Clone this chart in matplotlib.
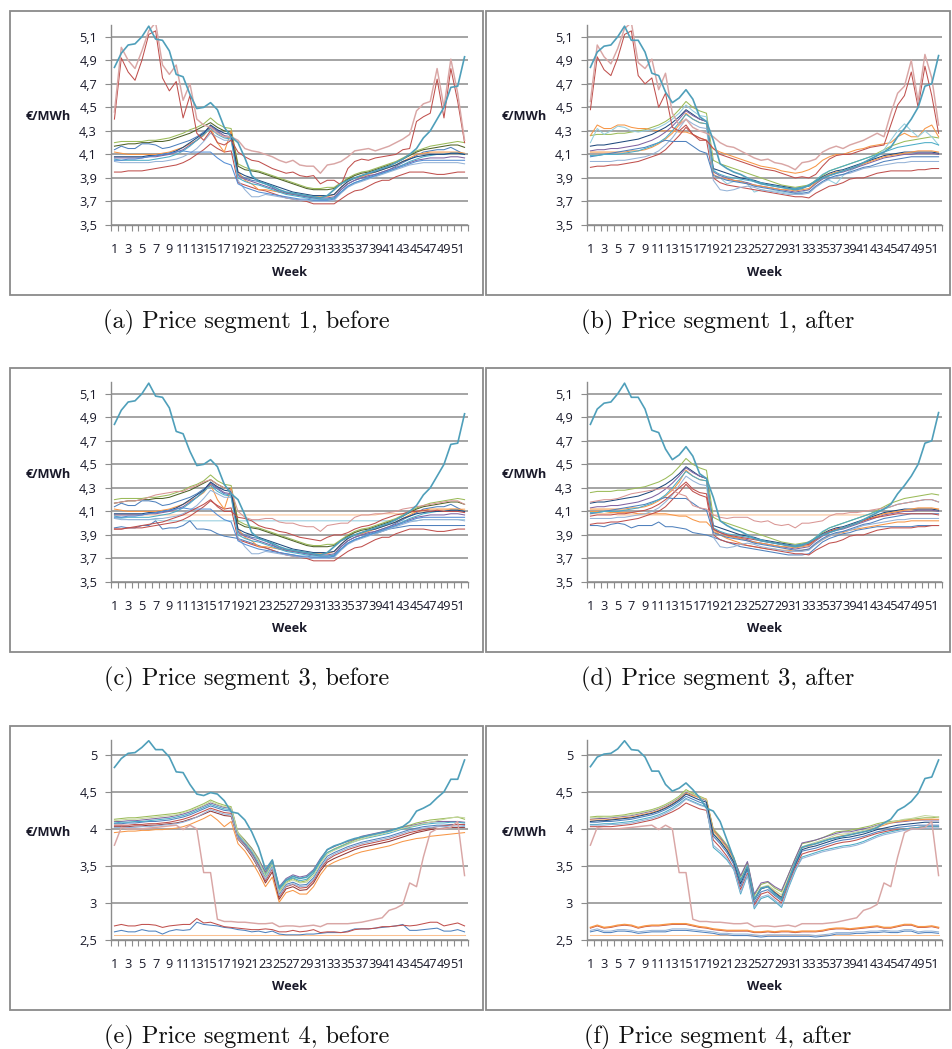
import matplotlib
matplotlib.use("Agg")
import matplotlib.pyplot as plt
from matplotlib.patches import Rectangle
from matplotlib.ticker import FixedLocator

WEEKS = list(range(1, 53))
WEEK_LABELS = [str(w) for w in range(1, 52, 2)]
Y_TICKS_13 = [3.5, 3.7, 3.9, 4.1, 4.3, 4.5, 4.7, 4.9, 5.1]
Y_LABELS_13 = ["3,5", "3,7", "3,9", "4,1", "4,3", "4,5", "4,7", "4,9", "5,1"]
Y_TICKS_4 = [2.5, 3.0, 3.5, 4.0, 4.5, 5.0]
Y_LABELS_4 = ["2,5", "3", "3,5", "4", "4,5", "5"]
CAPTIONS = ["(a) Price segment 1, before", "(b) Price segment 1, after",
            "(c) Price segment 3, before", "(d) Price segment 3, after",
            "(e) Price segment 4, before", "(f) Price segment 4, after"]

# ---------------- segment 1 / 3, before ----------------
TEAL_AC = [4.84, 4.96, 5.03, 5.04, 5.10, 5.19, 5.08, 5.07, 4.98, 4.78, 4.76, 4.61, 4.49,
           4.50, 4.54, 4.48, 4.33, 4.25, 4.20, 4.07, 3.92, 3.87, 3.85, 3.83, 3.80, 3.78,
           3.77, 3.76, 3.75, 3.74, 3.73, 3.75, 3.80, 3.85, 3.88, 3.90, 3.92, 3.94, 3.96,
           3.98, 4.00, 4.03, 4.06, 4.10, 4.15, 4.24, 4.30, 4.40, 4.50, 4.67, 4.68, 4.93]
A_RED_WILD = [4.40, 4.92, 4.80, 4.73, 4.90, 5.12, 5.15, 4.75, 4.64, 4.72, 4.41, 4.60, 4.28,
              4.22, 4.30, 4.20, 4.18, 4.22, 4.12, 4.08, 4.05, 4.04, 4.01, 3.98, 3.96, 3.94,
              3.95, 3.92, 3.91, 3.92, 3.85, 3.88, 3.88, 3.84, 3.98, 4.04, 4.06, 4.05, 4.07,
              4.08, 4.09, 4.10, 4.14, 4.15, 4.38, 4.42, 4.45, 4.74, 4.41, 4.83, 4.55, 4.20]
A_PINK_WILD = [4.46, 5.01, 4.90, 4.83, 4.98, 5.15, 5.22, 4.86, 4.78, 4.86, 4.56, 4.70, 4.40,
               4.35, 4.33, 4.28, 4.25, 4.25, 4.22, 4.15, 4.13, 4.12, 4.10, 4.08, 4.05, 4.03,
               4.05, 4.01, 4.00, 4.00, 3.94, 4.01, 4.02, 4.04, 4.08, 4.13, 4.14, 4.15, 4.13,
               4.15, 4.17, 4.20, 4.23, 4.27, 4.47, 4.53, 4.55, 4.83, 4.50, 4.91, 4.62, 4.22]
A1 = [4.20, 4.21, 4.21, 4.21, 4.21, 4.22, 4.22, 4.23, 4.24, 4.26, 4.28, 4.31, 4.33,
      4.36, 4.41, 4.36, 4.33, 4.32, 4.02, 3.99, 3.97, 3.96, 3.94, 3.92, 3.90, 3.88,
      3.86, 3.84, 3.82, 3.81, 3.81, 3.82, 3.82, 3.86, 3.90, 3.93, 3.95, 3.96, 3.98,
      4.00, 4.02, 4.04, 4.07, 4.10, 4.13, 4.15, 4.17, 4.18, 4.19, 4.20, 4.21, 4.20]
A2 = [4.17, 4.18, 4.19, 4.19, 4.20, 4.20, 4.21, 4.21, 4.22, 4.24, 4.26, 4.28, 4.31,
      4.34, 4.37, 4.33, 4.30, 4.29, 4.00, 3.97, 3.96, 3.95, 3.93, 3.91, 3.89, 3.87,
      3.85, 3.83, 3.81, 3.80, 3.80, 3.80, 3.81, 3.85, 3.89, 3.92, 3.94, 3.95, 3.97,
      3.99, 4.01, 4.03, 4.06, 4.09, 4.12, 4.14, 4.15, 4.16, 4.17, 4.18, 4.18, 4.16]
A3 = [4.14, 4.17, 4.15, 4.15, 4.19, 4.19, 4.18, 4.15, 4.16, 4.18, 4.20, 4.22, 4.25,
      4.29, 4.33, 4.29, 4.25, 4.24, 3.93, 3.90, 3.88, 3.87, 3.85, 3.82, 3.78, 3.77,
      3.76, 3.75, 3.74, 3.73, 3.72, 3.72, 3.73, 3.80, 3.85, 3.88, 3.90, 3.91, 3.93,
      3.95, 3.97, 4.00, 4.03, 4.06, 4.09, 4.12, 4.13, 4.14, 4.14, 4.16, 4.13, 4.10]
A4 = [3.95, 3.95, 3.96, 3.96, 3.96, 3.97, 3.98, 3.99, 4.00, 4.01, 4.03, 4.06, 4.10,
      4.14, 4.19, 4.15, 4.12, 4.13, 3.86, 3.84, 3.82, 3.80, 3.79, 3.77, 3.75, 3.73,
      3.72, 3.71, 3.70, 3.68, 3.68, 3.68, 3.68, 3.72, 3.76, 3.79, 3.80, 3.83, 3.86,
      3.88, 3.88, 3.91, 3.93, 3.95, 3.95, 3.95, 3.94, 3.93, 3.93, 3.94, 3.95, 3.95]
A5 = [4.12, 4.11, 4.10, 4.10, 4.10, 4.10, 4.10, 4.11, 4.12, 4.14, 4.16, 4.19, 4.22,
      4.26, 4.33, 4.20, 4.12, 4.30, 3.95, 3.88, 3.85, 3.80, 3.80, 3.79, 3.78, 3.77,
      3.76, 3.76, 3.75, 3.74, 3.74, 3.74, 3.76, 3.82, 3.87, 3.90, 3.91, 3.93, 3.95,
      3.97, 3.99, 4.01, 4.04, 4.07, 4.10, 4.11, 4.12, 4.12, 4.12, 4.12, 4.12, 4.11]
A6 = [4.07, 4.07, 4.07, 4.07, 4.07, 4.08, 4.08, 4.09, 4.10, 4.12, 4.14, 4.18, 4.22,
      4.27, 4.34, 4.30, 4.26, 4.25, 3.92, 3.89, 3.87, 3.85, 3.83, 3.81, 3.79, 3.77,
      3.76, 3.75, 3.74, 3.73, 3.73, 3.73, 3.74, 3.80, 3.85, 3.88, 3.90, 3.92, 3.93,
      3.95, 3.97, 3.99, 4.01, 4.03, 4.05, 4.06, 4.07, 4.07, 4.07, 4.08, 4.08, 4.07]
A7 = [4.04, 4.03, 4.03, 4.03, 4.03, 4.03, 4.04, 4.04, 4.05, 4.06, 4.08, 4.11, 4.15,
      4.21, 4.28, 4.25, 4.22, 4.22, 3.88, 3.80, 3.74, 3.74, 3.76, 3.75, 3.74, 3.73,
      3.72, 3.71, 3.71, 3.70, 3.70, 3.70, 3.71, 3.77, 3.82, 3.85, 3.87, 3.89, 3.91,
      3.93, 3.95, 3.97, 3.99, 4.01, 4.02, 4.03, 4.03, 4.03, 4.03, 4.03, 4.03, 4.02]
A8 = [4.06, 4.05, 4.05, 4.05, 4.05, 4.05, 4.06, 4.07, 4.08, 4.10, 4.13, 4.17, 4.22,
      4.27, 4.32, 4.27, 4.24, 4.23, 3.90, 3.87, 3.85, 3.84, 3.82, 3.80, 3.78, 3.76,
      3.75, 3.74, 3.73, 3.72, 3.72, 3.72, 3.73, 3.78, 3.83, 3.86, 3.88, 3.90, 3.92,
      3.94, 3.96, 3.98, 4.01, 4.04, 4.06, 4.08, 4.09, 4.10, 4.10, 4.11, 4.11, 4.10]
A9 = [4.08, 4.08, 4.08, 4.08, 4.08, 4.09, 4.09, 4.10, 4.11, 4.13, 4.16, 4.20, 4.24,
      4.28, 4.35, 4.31, 4.28, 4.27, 3.95, 3.92, 3.90, 3.88, 3.86, 3.84, 3.82, 3.80,
      3.78, 3.77, 3.76, 3.75, 3.75, 3.75, 3.76, 3.82, 3.87, 3.90, 3.92, 3.94, 3.95,
      3.97, 3.99, 4.01, 4.04, 4.06, 4.08, 4.09, 4.10, 4.10, 4.10, 4.11, 4.11, 4.10]
A10 = [4.05, 4.05, 4.06, 4.06, 4.07, 4.08, 4.09, 4.10, 4.11, 4.12, 4.13, 4.12, 4.12,
       4.12, 4.12, 4.07, 4.03, 4.01, 3.85, 3.82, 3.80, 3.78, 3.77, 3.76, 3.75, 3.74,
       3.73, 3.72, 3.72, 3.71, 3.71, 3.71, 3.72, 3.78, 3.83, 3.86, 3.88, 3.90, 3.92,
       3.94, 3.96, 3.98, 4.00, 4.02, 4.04, 4.05, 4.05, 4.05, 4.05, 4.05, 4.05, 4.05]
C_PINK = [4.17, 4.18, 4.19, 4.19, 4.20, 4.22, 4.24, 4.25, 4.26, 4.27, 4.27, 4.30, 4.32,
          4.35, 4.37, 4.33, 4.30, 4.28, 4.10, 4.05, 4.03, 4.03, 4.04, 4.04, 4.01, 4.00,
          4.00, 3.98, 3.97, 3.97, 3.93, 3.98, 3.99, 4.00, 4.00, 4.05, 4.07, 4.07, 4.08,
          4.08, 4.09, 4.10, 4.12, 4.13, 4.14, 4.15, 4.16, 4.17, 4.18, 4.19, 4.19, 4.16]
C_RED = [3.95, 3.95, 3.96, 3.97, 3.98, 3.99, 4.00, 4.01, 4.03, 4.05, 4.07, 4.10, 4.13,
         4.16, 4.20, 4.14, 4.10, 4.10, 4.05, 4.04, 4.02, 3.98, 3.96, 3.95, 3.93, 3.92,
         3.90, 3.88, 3.87, 3.86, 3.85, 3.88, 3.90, 3.90, 3.92, 3.95, 3.97, 3.98, 4.00,
         4.03, 4.05, 4.07, 4.08, 4.10, 4.10, 4.11, 4.10, 4.11, 4.10, 4.10, 4.10, 4.09]
C_FLAT_ORANGE = [4.07, 4.07, 4.07, 4.07, 4.07, 4.07, 4.07, 4.07, 4.07, 4.07, 4.07, 4.07, 4.07,
                 4.07, 4.07, 4.07, 4.07, 4.07, 4.07, 4.07, 4.07, 4.07, 4.07, 4.07, 4.07, 4.07,
                 4.07, 4.07, 4.07, 4.07, 4.07, 4.07, 4.07, 4.07, 4.07, 4.07, 4.07, 4.07, 4.07,
                 4.08, 4.08, 4.08, 4.08, 4.09, 4.09, 4.10, 4.10, 4.11, 4.11, 4.12, 4.12, 4.12]
C_FLAT_LBLUE = [4.04, 4.04, 4.03, 4.03, 4.03, 4.03, 4.03, 4.02, 4.02, 4.02, 4.02, 4.02, 4.02,
                4.02, 4.02, 4.02, 4.02, 4.02, 4.02, 4.02, 4.02, 4.02, 4.02, 4.02, 4.02, 4.02,
                4.02, 4.02, 4.02, 4.02, 4.02, 4.02, 4.02, 4.02, 4.02, 4.02, 4.02, 4.02, 4.02,
                4.02, 4.02, 4.02, 4.02, 4.02, 4.02, 4.03, 4.03, 4.03, 4.03, 4.03, 4.03, 4.03]
C_BLUE_DECL = [3.96, 3.97, 3.96, 3.96, 3.98, 3.98, 4.02, 3.95, 3.96, 3.96, 3.98, 4.02, 3.95,
               3.95, 3.94, 3.91, 3.89, 3.88, 3.87, 3.85, 3.83, 3.81, 3.79, 3.77, 3.75, 3.74,
               3.73, 3.72, 3.71, 3.70, 3.70, 3.70, 3.72, 3.78, 3.83, 3.86, 3.88, 3.90, 3.91,
               3.93, 3.95, 3.96, 3.97, 3.98, 3.98, 3.98, 3.98, 3.98, 3.98, 3.98, 3.98, 3.98]

# ---------------- segment 1 / 3, after ----------------
TEAL_BD = [4.84, 4.97, 5.02, 5.03, 5.10, 5.19, 5.07, 5.07, 4.97, 4.79, 4.77, 4.63, 4.54,
           4.58, 4.65, 4.57, 4.42, 4.38, 4.22, 4.02, 3.98, 3.95, 3.93, 3.90, 3.87, 3.85,
           3.84, 3.83, 3.82, 3.81, 3.80, 3.81, 3.84, 3.87, 3.90, 3.92, 3.94, 3.96, 3.98,
           4.00, 4.03, 4.06, 4.09, 4.12, 4.16, 4.25, 4.32, 4.40, 4.50, 4.68, 4.70, 4.94]
B_RED_WILD = [4.48, 4.93, 4.82, 4.77, 4.92, 5.12, 5.15, 4.77, 4.70, 4.75, 4.50, 4.62, 4.33,
              4.30, 4.35, 4.27, 4.22, 4.22, 4.15, 4.10, 4.08, 4.06, 4.04, 4.02, 4.00, 3.98,
              3.97, 3.96, 3.94, 3.92, 3.90, 3.91, 3.90, 3.93, 4.00, 4.06, 4.09, 4.10, 4.10,
              4.12, 4.14, 4.16, 4.17, 4.18, 4.35, 4.52, 4.60, 4.80, 4.50, 4.85, 4.60, 4.28]
B_PINK_WILD = [4.55, 5.03, 4.93, 4.87, 5.00, 5.17, 5.22, 4.88, 4.83, 4.91, 4.65, 4.79, 4.45,
               4.35, 4.40, 4.33, 4.30, 4.28, 4.25, 4.20, 4.17, 4.16, 4.13, 4.10, 4.07, 4.05,
               4.06, 4.03, 4.02, 4.00, 3.97, 4.03, 4.04, 4.06, 4.12, 4.15, 4.17, 4.15, 4.18,
               4.20, 4.22, 4.25, 4.28, 4.25, 4.45, 4.62, 4.68, 4.90, 4.55, 4.95, 4.75, 4.35]
B1 = [4.26, 4.27, 4.27, 4.27, 4.28, 4.28, 4.29, 4.30, 4.31, 4.33, 4.35, 4.38, 4.42,
      4.48, 4.55, 4.50, 4.47, 4.45, 4.05, 4.02, 4.00, 3.98, 3.96, 3.94, 3.92, 3.90,
      3.88, 3.86, 3.84, 3.83, 3.82, 3.83, 3.84, 3.88, 3.92, 3.96, 3.98, 4.00, 4.02,
      4.04, 4.06, 4.08, 4.11, 4.14, 4.17, 4.19, 4.21, 4.22, 4.23, 4.24, 4.25, 4.24]
B2 = [4.26, 4.35, 4.32, 4.32, 4.35, 4.35, 4.33, 4.32, 4.32, 4.31, 4.30, 4.30, 4.30,
      4.29, 4.29, 4.27, 4.24, 4.22, 4.15, 4.12, 4.10, 4.08, 4.06, 4.04, 4.02, 4.00,
      3.99, 3.98, 3.96, 3.95, 3.94, 3.95, 3.97, 4.00, 4.05, 4.08, 4.10, 4.10, 4.12,
      4.14, 4.15, 4.17, 4.18, 4.19, 4.20, 4.25, 4.28, 4.25, 4.25, 4.32, 4.35, 4.25]
B3 = [4.20, 4.32, 4.27, 4.30, 4.34, 4.33, 4.30, 4.29, 4.30, 4.31, 4.33, 4.36, 4.40,
      4.45, 4.52, 4.47, 4.43, 4.42, 3.98, 3.90, 3.85, 3.87, 3.88, 3.85, 3.78, 3.80,
      3.79, 3.79, 3.78, 3.77, 3.77, 3.78, 3.80, 3.85, 3.90, 3.88, 3.85, 3.92, 3.96,
      3.99, 4.02, 4.05, 4.09, 4.14, 4.22, 4.30, 4.36, 4.30, 4.25, 4.30, 4.25, 4.18]
B4 = [4.17, 4.18, 4.18, 4.19, 4.20, 4.21, 4.22, 4.23, 4.25, 4.27, 4.30, 4.33, 4.37,
      4.42, 4.48, 4.44, 4.40, 4.38, 3.98, 3.96, 3.94, 3.92, 3.90, 3.89, 3.88, 3.86,
      3.85, 3.84, 3.83, 3.82, 3.81, 3.82, 3.83, 3.87, 3.91, 3.94, 3.96, 3.97, 3.99,
      4.01, 4.03, 4.05, 4.07, 4.09, 4.10, 4.11, 4.12, 4.12, 4.12, 4.12, 4.12, 4.11]
B5 = [4.13, 4.14, 4.14, 4.15, 4.15, 4.16, 4.17, 4.18, 4.20, 4.22, 4.25, 4.29, 4.34,
      4.40, 4.47, 4.43, 4.40, 4.38, 3.95, 3.92, 3.90, 3.88, 3.87, 3.86, 3.84, 3.83,
      3.82, 3.81, 3.80, 3.79, 3.78, 3.79, 3.80, 3.85, 3.89, 3.92, 3.94, 3.95, 3.97,
      3.99, 4.01, 4.03, 4.05, 4.07, 4.08, 4.09, 4.10, 4.10, 4.11, 4.11, 4.11, 4.10]
B6 = [4.12, 4.12, 4.12, 4.12, 4.12, 4.12, 4.13, 4.13, 4.14, 4.16, 4.19, 4.23, 4.28,
      4.35, 4.45, 4.40, 4.37, 4.36, 3.93, 3.90, 3.89, 3.88, 3.87, 3.85, 3.84, 3.83,
      3.82, 3.81, 3.80, 3.80, 3.79, 3.80, 3.81, 3.86, 3.90, 3.93, 3.95, 3.96, 3.98,
      4.00, 4.02, 4.04, 4.06, 4.08, 4.09, 4.10, 4.11, 4.12, 4.13, 4.13, 4.13, 4.12]
B7 = [3.99, 4.00, 4.00, 4.01, 4.01, 4.02, 4.03, 4.04, 4.06, 4.08, 4.10, 4.14, 4.20,
      4.26, 4.33, 4.27, 4.24, 4.22, 3.90, 3.86, 3.84, 3.83, 3.82, 3.81, 3.80, 3.79,
      3.78, 3.77, 3.76, 3.75, 3.74, 3.74, 3.73, 3.77, 3.80, 3.83, 3.84, 3.86, 3.89,
      3.90, 3.90, 3.92, 3.94, 3.95, 3.96, 3.96, 3.96, 3.96, 3.97, 3.97, 3.98, 3.98]
B8 = [4.04, 4.04, 4.04, 4.04, 4.05, 4.05, 4.06, 4.07, 4.08, 4.10, 4.13, 4.18, 4.24,
      4.32, 4.40, 4.36, 4.33, 4.32, 3.88, 3.80, 3.79, 3.80, 3.82, 3.83, 3.82, 3.80,
      3.79, 3.78, 3.77, 3.76, 3.76, 3.76, 3.77, 3.82, 3.86, 3.89, 3.91, 3.93, 3.94,
      3.96, 3.98, 3.99, 4.00, 4.01, 4.02, 4.03, 4.03, 4.04, 4.04, 4.04, 4.04, 4.04]
B9 = [4.08, 4.09, 4.10, 4.11, 4.12, 4.13, 4.14, 4.15, 4.16, 4.18, 4.20, 4.22, 4.21,
      4.21, 4.21, 4.17, 4.13, 4.11, 3.92, 3.90, 3.88, 3.87, 3.86, 3.85, 3.83, 3.82,
      3.81, 3.80, 3.79, 3.78, 3.77, 3.77, 3.78, 3.83, 3.87, 3.90, 3.92, 3.93, 3.95,
      3.97, 3.99, 4.00, 4.02, 4.04, 4.05, 4.06, 4.07, 4.08, 4.08, 4.08, 4.08, 4.08]
B10 = [4.09, 4.09, 4.10, 4.10, 4.10, 4.11, 4.12, 4.13, 4.15, 4.17, 4.20, 4.24, 4.30,
       4.37, 4.44, 4.40, 4.37, 4.36, 3.96, 3.93, 3.91, 3.90, 3.89, 3.88, 3.87, 3.86,
       3.84, 3.83, 3.82, 3.81, 3.81, 3.82, 3.83, 3.88, 3.93, 3.96, 3.98, 4.00, 4.02,
       4.04, 4.06, 4.08, 4.10, 4.12, 4.14, 4.16, 4.17, 4.18, 4.19, 4.20, 4.20, 4.18]
D_PINK = [4.18, 4.19, 4.20, 4.20, 4.21, 4.23, 4.25, 4.26, 4.27, 4.28, 4.29, 4.30, 4.28,
          4.25, 4.23, 4.15, 4.13, 4.12, 4.07, 4.05, 4.04, 4.05, 4.05, 4.05, 4.02, 4.01,
          4.02, 3.99, 3.98, 3.99, 3.96, 4.00, 4.00, 4.01, 4.02, 4.06, 4.08, 4.08, 4.09,
          4.09, 4.10, 4.11, 4.12, 4.13, 4.14, 4.16, 4.17, 4.18, 4.19, 4.20, 4.20, 4.18]
D_RED = [4.06, 4.07, 4.07, 4.07, 4.08, 4.08, 4.09, 4.10, 4.11, 4.13, 4.16, 4.20, 4.25,
         4.30, 4.35, 4.29, 4.26, 4.25, 3.95, 3.92, 3.90, 3.89, 3.88, 3.87, 3.86, 3.85,
         3.84, 3.83, 3.82, 3.81, 3.80, 3.81, 3.82, 3.86, 3.90, 3.93, 3.95, 3.96, 3.98,
         4.00, 4.02, 4.04, 4.05, 4.06, 4.07, 4.08, 4.08, 4.08, 4.08, 4.08, 4.08, 4.07]
D_FLAT_ORANGE = [4.08, 4.08, 4.08, 4.08, 4.07, 4.07, 4.07, 4.07, 4.07, 4.07, 4.07, 4.07, 4.07,
                 4.07, 4.07, 4.07, 4.07, 4.07, 4.07, 4.07, 4.07, 4.07, 4.07, 4.07, 4.07, 4.07,
                 4.07, 4.07, 4.07, 4.07, 4.07, 4.07, 4.07, 4.07, 4.07, 4.07, 4.07, 4.07, 4.07,
                 4.07, 4.07, 4.07, 4.07, 4.08, 4.09, 4.10, 4.11, 4.11, 4.12, 4.12, 4.12, 4.12]
D_ORANGE2 = [4.10, 4.10, 4.10, 4.09, 4.09, 4.09, 4.09, 4.08, 4.08, 4.08, 4.08, 4.08, 4.07,
             4.06, 4.06, 4.03, 4.01, 4.01, 3.95, 3.90, 3.87, 3.85, 3.83, 3.81, 3.80, 3.79,
             3.78, 3.78, 3.77, 3.77, 3.76, 3.77, 3.78, 3.82, 3.86, 3.89, 3.91, 3.92, 3.94,
             3.95, 3.96, 3.97, 3.98, 3.99, 4.00, 4.01, 4.01, 4.02, 4.02, 4.02, 4.02, 4.02]
D_BLUE_DECL = [3.98, 3.98, 3.97, 3.99, 4.00, 3.99, 3.96, 3.98, 3.98, 3.98, 4.01, 3.97, 3.97,
               3.96, 3.95, 3.92, 3.91, 3.90, 3.88, 3.86, 3.84, 3.82, 3.80, 3.79, 3.78, 3.77,
               3.76, 3.75, 3.74, 3.73, 3.73, 3.73, 3.74, 3.79, 3.84, 3.87, 3.89, 3.91, 3.92,
               3.94, 3.95, 3.96, 3.97, 3.97, 3.97, 3.97, 3.97, 3.97, 3.98, 3.98, 3.98, 3.98]

# ---------------- segment 4, before ----------------
TEAL_E = [4.83, 4.95, 5.02, 5.03, 5.10, 5.19, 5.07, 5.07, 4.97, 4.77, 4.76, 4.60, 4.47,
          4.45, 4.49, 4.47, 4.38, 4.23, 4.21, 4.12, 3.96, 3.75, 3.45, 3.58, 3.20, 3.31,
          3.36, 3.33, 3.35, 3.43, 3.58, 3.72, 3.77, 3.80, 3.84, 3.87, 3.89, 3.91, 3.93,
          3.95, 3.97, 4.00, 4.03, 4.10, 4.24, 4.28, 4.33, 4.42, 4.50, 4.67, 4.67, 4.93]
PINK_EF = [3.78, 4.02, 4.00, 4.00, 4.00, 4.01, 4.02, 4.03, 4.04, 4.05, 3.99, 4.05, 4.00,
           3.41, 3.41, 2.78, 2.75, 2.75, 2.74, 2.74, 2.73, 2.72, 2.72, 2.73, 2.68, 2.69,
           2.69, 2.68, 2.69, 2.70, 2.68, 2.72, 2.72, 2.72, 2.72, 2.73, 2.74, 2.76, 2.78,
           2.80, 2.90, 2.93, 2.98, 3.27, 3.22, 3.62, 3.95, 4.00, 4.00, 4.02, 4.10, 3.37]
E1 = [4.13, 4.14, 4.15, 4.15, 4.16, 4.17, 4.18, 4.19, 4.20, 4.21, 4.23, 4.26, 4.30,
      4.34, 4.39, 4.35, 4.32, 4.30, 3.95, 3.85, 3.74, 3.60, 3.40, 3.55, 3.15, 3.28,
      3.33, 3.28, 3.30, 3.40, 3.56, 3.68, 3.73, 3.77, 3.81, 3.85, 3.88, 3.91, 3.93,
      3.95, 3.98, 4.00, 4.03, 4.05, 4.08, 4.10, 4.12, 4.13, 4.14, 4.15, 4.16, 4.13]
E2 = [4.10, 4.10, 4.11, 4.11, 4.12, 4.13, 4.14, 4.15, 4.16, 4.18, 4.20, 4.23, 4.27,
      4.31, 4.35, 4.32, 4.29, 4.28, 3.93, 3.84, 3.73, 3.58, 3.42, 3.58, 3.22, 3.33,
      3.38, 3.35, 3.37, 3.45, 3.60, 3.72, 3.76, 3.80, 3.83, 3.86, 3.90, 3.92, 3.94,
      3.96, 3.98, 4.00, 4.02, 4.04, 4.06, 4.08, 4.09, 4.10, 4.10, 4.10, 4.10, 4.09]
E3 = [4.07, 4.07, 4.08, 4.08, 4.09, 4.10, 4.10, 4.11, 4.12, 4.14, 4.16, 4.19, 4.23,
      4.27, 4.31, 4.28, 4.25, 4.24, 3.90, 3.80, 3.68, 3.52, 3.35, 3.50, 3.12, 3.25,
      3.28, 3.24, 3.25, 3.34, 3.50, 3.63, 3.68, 3.72, 3.76, 3.79, 3.82, 3.84, 3.86,
      3.88, 3.90, 3.93, 3.96, 3.99, 4.01, 4.03, 4.04, 4.05, 4.05, 4.06, 4.06, 4.05]
E4 = [4.05, 4.05, 4.05, 4.06, 4.06, 4.07, 4.07, 4.08, 4.09, 4.11, 4.13, 4.16, 4.20,
      4.24, 4.28, 4.25, 4.22, 4.21, 3.88, 3.78, 3.66, 3.50, 3.30, 3.46, 3.08, 3.22,
      3.25, 3.20, 3.21, 3.30, 3.46, 3.58, 3.64, 3.68, 3.72, 3.75, 3.78, 3.80, 3.82,
      3.84, 3.86, 3.89, 3.92, 3.95, 3.97, 3.99, 4.01, 4.03, 4.04, 4.05, 4.06, 4.06]
E5 = [3.95, 3.96, 3.97, 3.97, 3.98, 3.98, 3.99, 3.99, 4.00, 4.01, 4.03, 4.06, 4.10,
      4.14, 4.19, 4.12, 4.03, 4.10, 3.80, 3.70, 3.56, 3.40, 3.22, 3.35, 3.01, 3.14,
      3.17, 3.12, 3.12, 3.22, 3.38, 3.50, 3.55, 3.59, 3.62, 3.66, 3.69, 3.71, 3.73,
      3.75, 3.77, 3.80, 3.83, 3.85, 3.87, 3.88, 3.90, 3.91, 3.92, 3.93, 3.94, 3.95]
E6 = [4.08, 4.09, 4.09, 4.10, 4.10, 4.11, 4.12, 4.13, 4.14, 4.16, 4.18, 4.21, 4.25,
      4.29, 4.33, 4.30, 4.27, 4.26, 3.92, 3.82, 3.70, 3.55, 3.38, 3.54, 3.18, 3.30,
      3.34, 3.30, 3.32, 3.40, 3.56, 3.68, 3.72, 3.76, 3.80, 3.83, 3.86, 3.88, 3.90,
      3.92, 3.94, 3.97, 4.00, 4.02, 4.04, 4.06, 4.07, 4.08, 4.08, 4.09, 4.09, 4.08]
E7 = [4.11, 4.12, 4.13, 4.13, 4.14, 4.15, 4.16, 4.17, 4.18, 4.19, 4.22, 4.25, 4.28,
      4.32, 4.37, 4.33, 4.30, 4.29, 3.94, 3.83, 3.72, 3.57, 3.36, 3.52, 3.14, 3.27,
      3.31, 3.27, 3.28, 3.37, 3.53, 3.66, 3.71, 3.75, 3.79, 3.83, 3.86, 3.89, 3.91,
      3.93, 3.96, 3.98, 4.01, 4.03, 4.05, 4.07, 4.09, 4.11, 4.13, 4.15, 4.16, 4.15]
E8 = [4.03, 4.03, 4.03, 4.04, 4.04, 4.05, 4.05, 4.06, 4.07, 4.08, 4.10, 4.13, 4.16,
      4.20, 4.24, 4.21, 4.18, 4.17, 3.86, 3.76, 3.63, 3.47, 3.27, 3.42, 3.05, 3.19,
      3.22, 3.17, 3.18, 3.27, 3.43, 3.55, 3.60, 3.64, 3.68, 3.72, 3.75, 3.77, 3.79,
      3.81, 3.83, 3.86, 3.89, 3.92, 3.95, 3.97, 3.99, 4.00, 4.01, 4.02, 4.02, 4.02]
E9 = [4.02, 4.02, 4.02, 4.02, 4.03, 4.03, 4.04, 4.05, 4.06, 4.07, 4.09, 4.12, 4.16,
      4.21, 4.26, 4.23, 4.20, 4.19, 3.87, 3.77, 3.65, 3.48, 3.32, 3.48, 3.10, 3.23,
      3.26, 3.22, 3.23, 3.32, 3.48, 3.60, 3.66, 3.70, 3.74, 3.77, 3.80, 3.82, 3.84,
      3.86, 3.88, 3.91, 3.94, 3.97, 3.99, 4.01, 4.02, 4.03, 4.03, 4.04, 4.04, 4.03]
E_LOW_RED = [2.69, 2.71, 2.69, 2.69, 2.71, 2.71, 2.70, 2.67, 2.69, 2.70, 2.71, 2.71, 2.79,
             2.73, 2.74, 2.71, 2.68, 2.67, 2.66, 2.65, 2.64, 2.64, 2.65, 2.64, 2.61, 2.61,
             2.63, 2.61, 2.62, 2.64, 2.60, 2.61, 2.61, 2.60, 2.61, 2.64, 2.65, 2.65, 2.66,
             2.68, 2.68, 2.69, 2.70, 2.69, 2.70, 2.72, 2.74, 2.74, 2.69, 2.71, 2.73, 2.69]
E_LOW_BLUE = [2.61, 2.63, 2.61, 2.61, 2.64, 2.62, 2.62, 2.58, 2.62, 2.64, 2.63, 2.64, 2.74,
              2.71, 2.70, 2.69, 2.67, 2.66, 2.64, 2.63, 2.61, 2.62, 2.60, 2.62, 2.58, 2.57,
              2.57, 2.57, 2.58, 2.58, 2.59, 2.60, 2.60, 2.60, 2.62, 2.65, 2.65, 2.65, 2.66,
              2.67, 2.68, 2.69, 2.71, 2.63, 2.63, 2.64, 2.65, 2.66, 2.62, 2.62, 2.64, 2.61]
LOW_FLAT = [2.57, 2.57, 2.57, 2.57, 2.57, 2.57, 2.57, 2.57, 2.57, 2.57, 2.57, 2.57, 2.57,
            2.57, 2.57, 2.57, 2.57, 2.57, 2.57, 2.57, 2.57, 2.57, 2.57, 2.57, 2.57, 2.57,
            2.57, 2.57, 2.57, 2.57, 2.57, 2.57, 2.57, 2.57, 2.57, 2.57, 2.57, 2.57, 2.57,
            2.57, 2.57, 2.57, 2.57, 2.57, 2.57, 2.57, 2.57, 2.57, 2.57, 2.57, 2.57, 2.57]

# ---------------- segment 4, after ----------------
TEAL_F = [4.84, 4.97, 5.01, 5.02, 5.08, 5.19, 5.07, 5.06, 4.97, 4.78, 4.78, 4.60, 4.51,
          4.55, 4.62, 4.53, 4.42, 4.28, 4.24, 4.10, 3.85, 3.60, 3.30, 3.50, 3.05, 3.20,
          3.22, 3.12, 3.05, 3.30, 3.55, 3.75, 3.78, 3.80, 3.83, 3.86, 3.88, 3.90, 3.92,
          3.94, 3.96, 3.98, 4.02, 4.08, 4.13, 4.25, 4.30, 4.37, 4.48, 4.68, 4.70, 4.93]
F1 = [4.16, 4.17, 4.17, 4.17, 4.18, 4.19, 4.21, 4.22, 4.24, 4.26, 4.29, 4.33, 4.38,
      4.44, 4.53, 4.48, 4.44, 4.40, 4.00, 3.90, 3.78, 3.62, 3.35, 3.55, 3.10, 3.25,
      3.28, 3.20, 3.15, 3.38, 3.60, 3.80, 3.82, 3.85, 3.88, 3.92, 3.96, 3.97, 3.98,
      4.00, 4.02, 4.04, 4.07, 4.09, 4.10, 4.11, 4.12, 4.13, 4.14, 4.15, 4.15, 4.16]
F2 = [4.13, 4.14, 4.14, 4.15, 4.16, 4.17, 4.18, 4.20, 4.22, 4.24, 4.27, 4.31, 4.36,
      4.42, 4.50, 4.46, 4.42, 4.38, 3.98, 3.88, 3.76, 3.60, 3.37, 3.56, 3.12, 3.27,
      3.29, 3.22, 3.17, 3.38, 3.60, 3.81, 3.83, 3.85, 3.88, 3.91, 3.94, 3.96, 3.96,
      3.98, 4.00, 4.02, 4.05, 4.07, 4.08, 4.09, 4.10, 4.11, 4.12, 4.12, 4.12, 4.12]
F3 = [4.09, 4.09, 4.10, 4.10, 4.11, 4.12, 4.13, 4.15, 4.17, 4.19, 4.22, 4.26, 4.31,
      4.37, 4.44, 4.40, 4.36, 4.33, 3.90, 3.80, 3.68, 3.52, 3.22, 3.45, 3.00, 3.15,
      3.18, 3.10, 3.03, 3.28, 3.50, 3.70, 3.72, 3.74, 3.77, 3.80, 3.83, 3.85, 3.86,
      3.88, 3.90, 3.93, 3.96, 3.98, 4.00, 4.02, 4.03, 4.04, 4.05, 4.05, 4.05, 4.05]
F4 = [4.03, 4.03, 4.03, 4.03, 4.04, 4.05, 4.06, 4.08, 4.10, 4.12, 4.15, 4.19, 4.23,
      4.28, 4.35, 4.31, 4.27, 4.25, 3.85, 3.75, 3.63, 3.47, 3.18, 3.40, 2.97, 3.12,
      3.15, 3.07, 3.00, 3.25, 3.47, 3.66, 3.69, 3.71, 3.74, 3.77, 3.80, 3.82, 3.83,
      3.85, 3.88, 3.91, 3.94, 3.96, 3.98, 3.99, 4.00, 4.01, 4.02, 4.03, 4.03, 4.03]
F5 = [4.12, 4.12, 4.12, 4.13, 4.14, 4.15, 4.16, 4.18, 4.20, 4.22, 4.25, 4.29, 4.34,
      4.40, 4.48, 4.45, 4.42, 4.40, 3.98, 3.86, 3.74, 3.58, 3.30, 3.50, 3.05, 3.20,
      3.23, 3.15, 3.08, 3.32, 3.55, 3.75, 3.77, 3.80, 3.83, 3.86, 3.89, 3.91, 3.92,
      3.94, 3.96, 3.99, 4.02, 4.05, 4.08, 4.10, 4.11, 4.12, 4.12, 4.13, 4.13, 4.13]
F6 = [4.06, 4.06, 4.07, 4.07, 4.08, 4.09, 4.10, 4.12, 4.14, 4.16, 4.19, 4.23, 4.28,
      4.34, 4.41, 4.37, 4.33, 4.30, 3.75, 3.67, 3.58, 3.45, 3.12, 3.37, 2.92, 3.06,
      3.09, 3.02, 2.94, 3.20, 3.43, 3.62, 3.65, 3.68, 3.71, 3.73, 3.75, 3.77, 3.78,
      3.80, 3.83, 3.87, 3.91, 3.94, 3.96, 3.98, 4.00, 4.01, 4.02, 4.03, 4.03, 4.03]
F7 = [4.15, 4.15, 4.16, 4.16, 4.17, 4.18, 4.19, 4.21, 4.23, 4.25, 4.28, 4.32, 4.37,
      4.43, 4.51, 4.47, 4.43, 4.39, 3.95, 3.84, 3.72, 3.56, 3.28, 3.50, 3.06, 3.21,
      3.24, 3.17, 3.11, 3.34, 3.56, 3.76, 3.79, 3.82, 3.85, 3.88, 3.92, 3.93, 3.94,
      3.96, 3.98, 4.01, 4.04, 4.07, 4.09, 4.11, 4.13, 4.14, 4.16, 4.18, 4.17, 4.16]
F8 = [4.10, 4.11, 4.11, 4.12, 4.13, 4.14, 4.15, 4.17, 4.19, 4.21, 4.24, 4.28, 4.33,
      4.39, 4.47, 4.43, 4.39, 4.36, 3.93, 3.83, 3.71, 3.55, 3.26, 3.48, 3.04, 3.19,
      3.22, 3.14, 3.07, 3.30, 3.52, 3.72, 3.75, 3.77, 3.80, 3.83, 3.86, 3.88, 3.89,
      3.91, 3.93, 3.96, 3.99, 4.01, 4.03, 4.05, 4.06, 4.07, 4.08, 4.09, 4.09, 4.09]
F9 = [4.05, 4.05, 4.05, 4.06, 4.06, 4.07, 4.08, 4.10, 4.12, 4.14, 4.17, 4.21, 4.26,
      4.32, 4.40, 4.36, 4.32, 4.29, 3.78, 3.70, 3.60, 3.46, 3.14, 3.38, 2.94, 3.08,
      3.11, 3.04, 2.96, 3.22, 3.45, 3.60, 3.63, 3.66, 3.69, 3.71, 3.73, 3.75, 3.76,
      3.78, 3.81, 3.85, 3.89, 3.92, 3.94, 3.96, 3.98, 3.99, 4.00, 4.01, 4.01, 4.01]
F_LOW_ORANGE = [2.67, 2.70, 2.67, 2.68, 2.70, 2.71, 2.70, 2.67, 2.69, 2.70, 2.70, 2.71, 2.72,
                2.72, 2.72, 2.70, 2.68, 2.67, 2.65, 2.64, 2.63, 2.63, 2.63, 2.63, 2.61, 2.61,
                2.62, 2.61, 2.62, 2.62, 2.61, 2.62, 2.62, 2.62, 2.63, 2.65, 2.66, 2.66, 2.65,
                2.66, 2.67, 2.68, 2.69, 2.67, 2.67, 2.69, 2.71, 2.71, 2.68, 2.68, 2.69, 2.67]
F_LOW_RED = [2.66, 2.69, 2.66, 2.67, 2.69, 2.70, 2.69, 2.66, 2.68, 2.69, 2.69, 2.70, 2.71,
             2.71, 2.71, 2.69, 2.67, 2.66, 2.64, 2.63, 2.62, 2.62, 2.62, 2.62, 2.60, 2.60,
             2.61, 2.60, 2.61, 2.61, 2.60, 2.61, 2.61, 2.61, 2.62, 2.64, 2.65, 2.65, 2.64,
             2.65, 2.66, 2.67, 2.68, 2.66, 2.66, 2.68, 2.70, 2.70, 2.67, 2.67, 2.68, 2.66]
F_LOW_LBLUE = [2.63, 2.65, 2.62, 2.62, 2.64, 2.64, 2.63, 2.61, 2.62, 2.63, 2.63, 2.63, 2.65,
               2.65, 2.65, 2.64, 2.63, 2.62, 2.61, 2.59, 2.59, 2.58, 2.58, 2.58, 2.57, 2.56,
               2.57, 2.57, 2.57, 2.57, 2.57, 2.57, 2.57, 2.56, 2.57, 2.58, 2.60, 2.60, 2.60,
               2.61, 2.61, 2.62, 2.62, 2.63, 2.62, 2.62, 2.64, 2.64, 2.61, 2.62, 2.62, 2.61]
F_LOW_BLUE = [2.61, 2.63, 2.60, 2.60, 2.62, 2.62, 2.61, 2.59, 2.60, 2.61, 2.61, 2.61, 2.63,
              2.63, 2.63, 2.62, 2.61, 2.60, 2.59, 2.57, 2.57, 2.56, 2.56, 2.56, 2.55, 2.54,
              2.55, 2.55, 2.55, 2.55, 2.55, 2.55, 2.55, 2.54, 2.55, 2.56, 2.58, 2.58, 2.58,
              2.59, 2.59, 2.60, 2.60, 2.61, 2.60, 2.60, 2.62, 2.62, 2.59, 2.60, 2.60, 2.59]

# ---------------- styles ----------------
BLUE, RED, GREEN, PURPLE, AQUA, ORANGE = "#4F81BD", "#C0504D", "#9BBB59", "#8064A2", "#4BACC6", "#F79646"
DKBLUE, DKGREEN, LBLUE, LAQUA, LGREEN, PINKC = "#1F497D", "#4F6228", "#95B3D7", "#93CDDD", "#C3D69B", "#D99694"
LORANGE, MBLUE, DKRED = "#FAC090", "#558ED5", "#943634"
TEAL = "#4F9FBA"
WILD_PINK = "#D9A6A5"

S_A = [(A1, GREEN), (A2, DKGREEN), (A3, BLUE), (A4, RED), (A5, ORANGE), (A6, PURPLE),
       (A7, LBLUE), (A8, AQUA), (A9, DKBLUE), (A10, MBLUE)]
S_B = [(B1, GREEN), (B2, ORANGE), (B3, LAQUA), (B4, DKBLUE), (B5, PURPLE), (B6, ORANGE),
       (B7, RED), (B8, LBLUE), (B9, BLUE), (B10, AQUA)]
S_E = [(E1, GREEN), (E2, PURPLE), (E3, BLUE), (E4, RED), (E5, ORANGE), (E6, AQUA),
       (E7, LGREEN), (E8, DKRED), (E9, LBLUE)]
S_F = [(F1, GREEN), (F2, PURPLE), (F3, BLUE), (F4, RED), (F5, ORANGE), (F6, AQUA),
       (F7, LGREEN), (F8, DKBLUE), (F9, LBLUE)]

THIN, MID, THICK = 0.75, 1.05, 1.2

PANEL_LINES = [
    [(v, c, THIN) for v, c in S_A] + [(A_RED_WILD, RED, THIN), (A_PINK_WILD, WILD_PINK, MID), (TEAL_AC, TEAL, THICK)],
    [(v, c, THIN) for v, c in S_B] + [(B_RED_WILD, RED, THIN), (B_PINK_WILD, WILD_PINK, MID), (TEAL_BD, TEAL, THICK)],
    [(C_FLAT_ORANGE, LORANGE, THIN), (C_FLAT_LBLUE, LAQUA, THIN), (C_BLUE_DECL, BLUE, THIN)]
    + [(v, c, THIN) for v, c in S_A] + [(C_RED, RED, THIN), (C_PINK, PINKC, THIN), (TEAL_AC, TEAL, THICK)],
    [(D_FLAT_ORANGE, LORANGE, THIN), (D_BLUE_DECL, BLUE, THIN), (D_ORANGE2, ORANGE, THIN)]
    + [(v, c, THIN) for v, c in S_B if v is not B2 and v is not B3]
    + [(D_RED, RED, THIN), (D_PINK, PINKC, THIN), (TEAL_BD, TEAL, THICK)],
    [(LOW_FLAT, LORANGE, THIN), (E_LOW_BLUE, BLUE, THIN), (E_LOW_RED, RED, THIN)]
    + [(v, c, THIN) for v, c in S_E] + [(PINK_EF, WILD_PINK, MID), (TEAL_E, TEAL, THICK)],
    [(LOW_FLAT, LORANGE, THIN), (F_LOW_BLUE, BLUE, THIN), (F_LOW_LBLUE, LBLUE, THIN),
     (F_LOW_RED, RED, THIN), (F_LOW_ORANGE, ORANGE, MID)]
    + [(v, c, THIN) for v, c in S_F] + [(PINK_EF, WILD_PINK, MID), (TEAL_F, TEAL, THICK)],
]

# ---------------- layout ----------------
W, H = 952, 1049
fig = plt.figure(figsize=(W / 100, H / 100), dpi=100)
fig.patch.set_facecolor("white")
SANS = ["Open Sans", "DejaVu Sans"]

def fx(px):
    return px / W

def fy(py):
    return 1 - py / H

BOXES = [(10, 11, 473, 284), (486, 11, 464, 284),
         (10, 368, 473, 284), (486, 368, 464, 284),
         (10, 726, 473, 284), (486, 726, 464, 284)]
AX_W = [357, 355, 357, 355, 357, 355]
GRID_C = "#8C8C8C"
TXT_C = "#1A1A2A"

for i, (box, lines) in enumerate(zip(BOXES, PANEL_LINES)):
    x0, y0, bw, bh = box
    fig.patches.append(Rectangle((fx(x0), fy(y0 + bh)), bw / W, bh / H, transform=fig.transFigure,
                                 fill=False, edgecolor="#8A8A8A", lw=1.3))
    axl = x0 + 101
    ax = fig.add_axes([fx(axl), fy(y0 + 214), AX_W[i] / W, 200 / H])
    seg4 = i >= 4
    ax.set_xlim(0.5, 52.5)
    if seg4:
        ax.set_ylim(2.5, 5.2)
        ax.set_yticks(Y_TICKS_4)
        ax.set_yticklabels(Y_LABELS_4)
    else:
        ax.set_ylim(3.5, 5.2)
        ax.set_yticks(Y_TICKS_13)
        ax.set_yticklabels(Y_LABELS_13)
    ax.set_axisbelow(True)
    ax.grid(axis="y", color=GRID_C, lw=1.1)
    for s in ("top", "right"):
        ax.spines[s].set_visible(False)
    for s in ("left", "bottom"):
        ax.spines[s].set_color(GRID_C)
        ax.spines[s].set_linewidth(1.0)
    ax.set_xticks(list(range(1, 52, 2)))
    ax.set_xticklabels(WEEK_LABELS)
    ax.xaxis.set_minor_locator(FixedLocator([k + 0.5 for k in range(0, 53)]))
    ax.tick_params(axis="x", which="major", length=0, pad=13, labelsize=9.2, labelcolor=TXT_C)
    ax.tick_params(axis="x", which="minor", length=4, width=0.8, color=GRID_C, direction="out")
    ax.tick_params(axis="y", which="major", length=4, width=0.8, color=GRID_C, pad=6,
                   labelsize=9.2, labelcolor=TXT_C)
    for lab in ax.get_xticklabels() + ax.get_yticklabels():
        lab.set_family(SANS)
    for vals, col, lw in lines:
        ax.plot(WEEKS, vals, color=col, lw=lw, solid_joinstyle="round", zorder=3)

    fig.text(fx(x0 + 38), fy(y0 + 106), "€/MWh", ha="center", va="center", family=SANS,
             fontsize=9.2, fontweight="bold", color=TXT_C)
    fig.text(fx(axl + AX_W[i] / 2), fy(y0 + 261), "Week", ha="center", va="center", family=SANS,
             fontsize=9.2, fontweight="bold", color=TXT_C)
    fig.text(fx(x0 + bw / 2), fy(y0 + bh + 27), CAPTIONS[i], ha="center", va="center",
             fontsize=17.5, family="cmr10", color="#111111")

fig.savefig("out.png", dpi=100, facecolor="white")
